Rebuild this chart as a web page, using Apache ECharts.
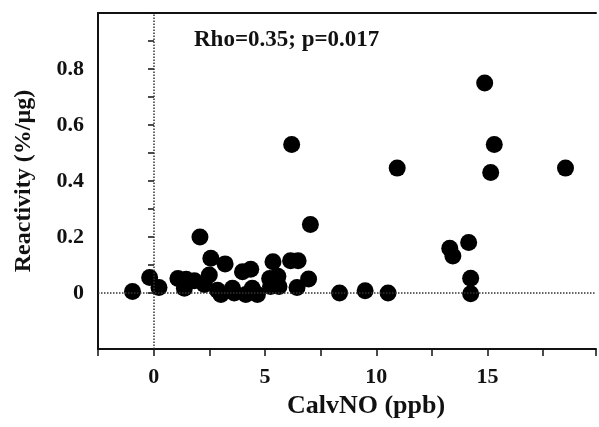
<!DOCTYPE html>
<html>
<head>
<meta charset="utf-8">
<script src="https://cdn.jsdelivr.net/npm/echarts@6/dist/echarts.min.js"></script>
<style>
  html, body { margin: 0; padding: 0; background: #fff; }
  #chart { width: 599px; height: 427px; }
</style>
</head>
<body>
<div id="chart"></div>
<script>
// CalvNO (ppb) vs reactivity (%/µg)
var calvNO = [-0.95, -0.18, 0.24, 1.09, 1.46, 1.38, 1.83, 2.08, 2.57, 2.5, 2.28, 2.87, 3.02, 3.21, 3.54, 3.62,
  3.99, 4.36, 4.14, 4.66, 4.43, 5.21, 5.25, 5.36, 5.63, 5.58, 6.15, 6.49, 6.2, 6.44, 6.96, 7.04,
  8.35, 9.5, 10.53, 10.94, 13.3, 13.44, 14.15, 14.24, 14.24, 14.87, 15.3, 15.14, 18.5];
var reactivity = [0.005, 0.055, 0.02, 0.052, 0.049, 0.017, 0.044, 0.2, 0.124, 0.064, 0.03, 0.01, -0.005, 0.104, 0.017, 0.0,
  0.076, 0.085, -0.005, -0.005, 0.017, 0.052, 0.023, 0.112, 0.023, 0.06, 0.115, 0.115, 0.53, 0.02, 0.05, 0.245,
  0.0, 0.008, 0.0, 0.446, 0.16, 0.132, 0.18, 0.053, -0.003, 0.75, 0.53, 0.43, 0.446];
var xTickLabels = [0, 5, 10, 15];
var yTickLabels = [0, 0.2, 0.4, 0.6, 0.8];
var statsText = 'Rho=0.35; p=0.017';

var fontFamily = '"Liberation Serif", "Times New Roman", serif';
var ink = '#111';

var points = [];
for (var i = 0; i < calvNO.length; i++) {
  points.push([calvNO[i], reactivity[i]]);
}

var chart = echarts.init(document.getElementById('chart'));

var option = {
  animation: false,
  backgroundColor: '#fff',
  grid: [
    // main plot area
    { left: 98, right: 0, top: 13, bottom: 78 },
    // only used to put y ticks from 0 upward
    { left: 98, right: 0, top: 13, bottom: 134 }
  ],
  graphic: [{
    type: 'text',
    left: 194,
    top: 29,
    style: {
      text: statsText,
      fill: ink,
      font: 'bold 23px ' + fontFamily
    }
  }],
  xAxis: [
    {
      type: 'value',
      gridIndex: 0,
      min: -2.5,
      max: 19.87,
      interval: 2.5,
      name: 'CalvNO (ppb)',
      nameLocation: 'middle',
      nameGap: 40,
      nameTextStyle: {
        color: ink,
        fontFamily: fontFamily,
        fontWeight: 'bold',
        fontSize: 26,
        padding: [0, 0, 0, 38]
      },
      axisLine: { onZero: false, lineStyle: { color: ink, width: 2 } },
      axisTick: { length: 7, lineStyle: { color: ink, width: 1.5 } },
      axisLabel: {
        margin: 17,
        color: ink,
        fontFamily: fontFamily,
        fontWeight: 'bold',
        fontSize: 22,
        formatter: function (v) {
          return xTickLabels.indexOf(v) >= 0 ? String(v) : '';
        }
      },
      splitLine: { show: false }
    },
    {
      // top border
      type: 'value',
      gridIndex: 0,
      position: 'top',
      min: -2.5,
      max: 19.87,
      axisLine: { onZero: false, lineStyle: { color: ink, width: 2 } },
      axisTick: { show: false },
      axisLabel: { show: false },
      splitLine: { show: false }
    },
    {
      type: 'value',
      gridIndex: 1,
      show: false,
      min: -2.5,
      max: 19.87
    }
  ],
  yAxis: [
    {
      type: 'value',
      gridIndex: 0,
      min: -0.2,
      max: 1.0,
      name: 'Reactivity (%/µg)',
      nameLocation: 'middle',
      nameRotate: 90,
      nameGap: 62,
      nameTextStyle: {
        color: ink,
        fontFamily: fontFamily,
        fontWeight: 'bold',
        fontSize: 24
      },
      axisLine: { onZero: false, lineStyle: { color: ink, width: 2 } },
      axisTick: { show: false },
      axisLabel: { show: false },
      splitLine: { show: false }
    },
    {
      type: 'value',
      gridIndex: 1,
      min: 0,
      max: 1.0,
      interval: 0.1,
      axisLine: { show: false },
      axisTick: { show: true, length: 6, lineStyle: { color: ink, width: 1.5 } },
      axisLabel: {
        margin: 14,
        color: ink,
        fontFamily: fontFamily,
        fontWeight: 'bold',
        fontSize: 22,
        formatter: function (v) {
          var r = Math.round(v * 10) / 10;
          return yTickLabels.indexOf(r) >= 0 ? String(r) : '';
        }
      },
      splitLine: { show: false }
    }
  ],
  series: [
    {
      // dotted zero lines, kept under the dots
      type: 'scatter',
      xAxisIndex: 0,
      yAxisIndex: 0,
      z: 1,
      data: [],
      markLine: {
        silent: true,
        symbol: 'none',
        label: { show: false },
        lineStyle: { color: '#333', type: 'dotted', width: 1.5 },
        data: [{ xAxis: 0 }, { yAxis: 0 }]
      }
    },
    {
      type: 'scatter',
      xAxisIndex: 0,
      yAxisIndex: 0,
      z: 3,
      symbol: 'circle',
      symbolSize: 17,
      itemStyle: { color: '#000', opacity: 1 },
      data: points
    }
  ]
};

chart.setOption(option);
</script>
</body>
</html>
